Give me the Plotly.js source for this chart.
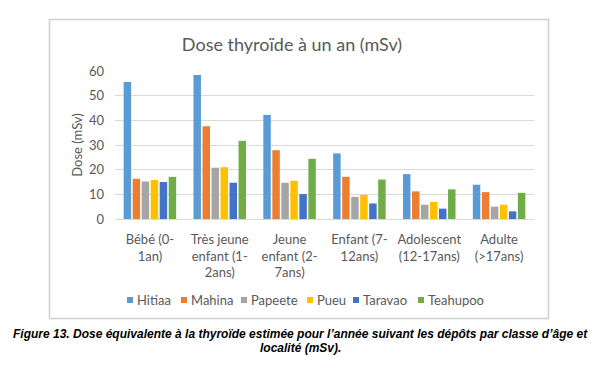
<!DOCTYPE html>
<html>
<head>
<meta charset="utf-8">
<script src="https://cdn.plot.ly/plotly-3.0.1.min.js"></script>
<style>
html,body{margin:0;padding:0;background:#fff;}
#chart{width:600px;height:372px;}
</style>
</head>
<body>
<div id="chart"></div>
<script>
// ---- Data ----
const categories = ['Bébé (0-<br>1an)', 'Très jeune<br>enfant (1-<br>2ans)', 'Jeune<br>enfant (2-<br>7ans)', 'Enfant (7-<br>12ans)', 'Adolescent<br>(12-17ans)', 'Adulte<br>(>17ans)'];
const seriesNames = ['Hitiaa', 'Mahina', 'Papeete', 'Pueu', 'Taravao', 'Teahupoo'];
const hitiaa   = [55.5, 58.4, 42.2, 26.6, 18.2, 13.9];
const mahina   = [16.3, 37.6, 27.9, 17.1, 11.2, 10.9];
const papeete  = [15.2, 20.8, 14.7, 9.0, 5.8, 5.0];
const pueu     = [15.8, 21.0, 15.5, 9.8, 6.9, 5.8];
const taravao  = [15.0, 14.7, 10.1, 6.3, 4.2, 3.1];
const teahupoo = [17.1, 31.7, 24.4, 16.0, 12.0, 10.6];
const yTicks = [0, 10, 20, 30, 40, 50, 60];
const titleText = 'Dose thyroïde à un an (mSv)';
const yTitle = 'Dose (mSv)';
const captionLine1 = 'Figure 13. Dose équivalente à la thyroïde estimée pour l’année suivant les dépôts par classe d’âge et';
const captionLine2 = 'localité (mSv).';

// ---- Styles / layout ----
const colors = ['#5B9BD5', '#ED7D31', '#A5A5A5', '#FFC000', '#4472C4', '#70AD47'];
const W = 600, H = 372;
const plotL = 115, plotR = 534, plotT = 71, plotB = 219;
const px = v => (v - plotL) / (plotR - plotL);
const py = v => (plotB - v) / (plotB - plotT);
const txtColor = '#595959';
const font = 'Lato, "Open Sans", sans-serif';

const allSeries = [hitiaa, mahina, papeete, pueu, taravao, teahupoo];
const traces = allSeries.map((vals, i) => ({
  type: 'bar', name: seriesNames[i], x: categories, y: vals,
  marker: {color: colors[i], line: {width: 0}}, hoverinfo: 'x+y+name'
}));

const legendSq = [127, 181, 241, 307, 353, 418];
const legendY = 300;
const shapes = [{
  type: 'rect', xref: 'paper', yref: 'paper',
  x0: px(49.5), x1: px(548.5), y0: py(318.5), y1: py(19.5),
  line: {color: '#D0D0D0', width: 1.5}, fillcolor: 'rgba(0,0,0,0)', layer: 'above'
}];
const annotations = [];
seriesNames.forEach((n, i) => {
  shapes.push({type: 'rect', xref: 'paper', yref: 'paper',
    x0: px(legendSq[i]), x1: px(legendSq[i] + 6), y0: py(legendY + 3), y1: py(legendY - 3),
    line: {width: 0}, fillcolor: colors[i], layer: 'above'});
  annotations.push({xref: 'paper', yref: 'paper', x: px(legendSq[i] + 8), y: py(legendY),
    xanchor: 'left', yanchor: 'middle', showarrow: false, text: n,
    font: {family: font, size: 13, color: txtColor}});
});
annotations.push({xref: 'paper', yref: 'paper', x: px(300), y: py(334), xanchor: 'center', yanchor: 'middle',
  showarrow: false, text: '<b><i>' + captionLine1 + '</i></b>',
  font: {family: '"Liberation Sans", Arial, sans-serif', size: 12, color: '#000'}});
annotations.push({xref: 'paper', yref: 'paper', x: px(300), y: py(348), xanchor: 'center', yanchor: 'middle',
  showarrow: false, text: '<b><i>' + captionLine2 + '</i></b>',
  font: {family: '"Liberation Sans", Arial, sans-serif', size: 12, color: '#000'}});

const layout = {
  width: W, height: H,
  margin: {l: plotL, r: W - plotR, t: plotT, b: H - plotB, pad: 0},
  paper_bgcolor: '#fff', plot_bgcolor: '#fff',
  showlegend: false,
  barmode: 'group', bargap: 0.226, bargroupgap: 0.17,
  title: {text: titleText, font: {family: font, size: 18, color: txtColor},
    x: 292 / W, xref: 'container', xanchor: 'center', y: 1 - 45 / H, yref: 'container', yanchor: 'middle'},
  xaxis: {type: 'category', showgrid: false, showline: true, linecolor: '#D9D9D9', linewidth: 1,
    ticks: '', tickfont: {family: font, size: 13, color: txtColor}, ticklabelstandoff: 8, automargin: false},
  yaxis: {range: [0, 60], tickvals: yTicks, showgrid: true, gridcolor: '#D9D9D9', gridwidth: 1,
    zeroline: true, zerolinecolor: '#D9D9D9', zerolinewidth: 1, showline: false, ticks: '',
    tickfont: {family: font, size: 13, color: txtColor}, ticklabelstandoff: 10, automargin: false,
    title: {text: yTitle, font: {family: font, size: 13, color: txtColor}, standoff: 3}},
  shapes: shapes, annotations: annotations,
  font: {family: font, color: txtColor}
};
Plotly.newPlot('chart', traces, layout, {displayModeBar: false, staticPlot: true});
</script>
</body>
</html>
